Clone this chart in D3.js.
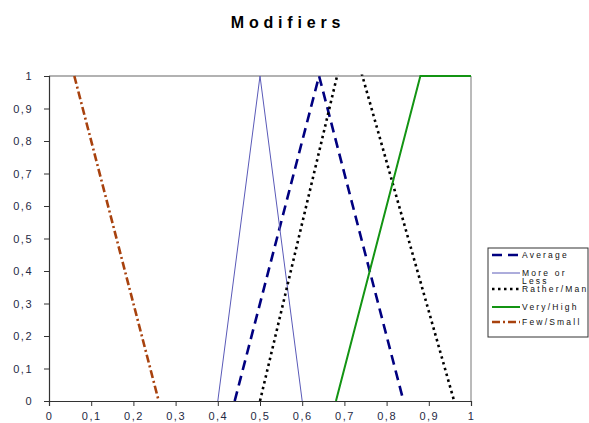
<!DOCTYPE html>
<html>
<head>
<meta charset="utf-8">
<script src="https://cdn.jsdelivr.net/npm/d3@7"></script>
<style>
  body { margin: 0; background: #fff; }
  text { font-family: "Liberation Sans", Arial, sans-serif; }
</style>
</head>
<body>
<div id="chart"></div>
<script>
// chart data (the axis stops at 1, so a peak above 1 is cut off by the plot area)
const seriesNames = ["Average", "More or Less", "Rather/Many", "Very/High", "Few/Small"];
const average = [[0.44, 0], [0.64, 1], [0.84, 0]];
const moreOrLess = [[0.40, 0], [0.50, 1], [0.60, 0]];
const ratherMany = [[0.50, 0], [0.71, 1.15], [0.96, 0]];
const veryHigh = [[0.68, 0], [0.88, 1], [1.0, 1]];
const fewSmall = [[0.06, 1], [0.26, 0]];
const xTicks = [0, 0.1, 0.2, 0.3, 0.4, 0.5, 0.6, 0.7, 0.8, 0.9, 1];
const yTicks = [0, 0.1, 0.2, 0.3, 0.4, 0.5, 0.6, 0.7, 0.8, 0.9, 1];

const width = 589, height = 423;
const margin = {top: 76, left: 49, right: 118, bottom: 22};

const styles = [
    {color: "#000080", w: 2.6, dash: "10,6"},
    {color: "#5a5ab8", w: 1, dash: null},
    {color: "#000000", w: 2.6, dash: "2.5,3.5"},
    {color: "#139413", w: 2, dash: null},
    {color: "#a8420e", w: 2.6, dash: "8,3,2,3"}
];
const allSeries = [average, moreOrLess, ratherMany, veryHigh, fewSmall];

const x = d3.scaleLinear().domain([0, 1]).range([margin.left, width - margin.right]);
const y = d3.scaleLinear().domain([0, 1]).range([height - margin.bottom, margin.top]);

const fmt = d => d === 0 || d === 1 ? String(d) : d3.format(".1f")(d).replace(".", ",");

const svg = d3.select("#chart").append("svg")
    .attr("width", width)
    .attr("height", height);

svg.append("clipPath").attr("id", "plotclip")
    .append("rect")
    .attr("x", x(0)).attr("y", y(1) - 1.5)
    .attr("width", x(1) - x(0) + 1.5).attr("height", y(0) - y(1) + 1.5);

// title
svg.append("text")
    .attr("x", 288)
    .attr("y", 28)
    .attr("text-anchor", "middle")
    .attr("font-size", 16)
    .attr("font-weight", "bold")
    .attr("letter-spacing", "4.8px")
    .text("Modifiers");

// top gridline and right border
svg.append("line")
    .attr("x1", x(0)).attr("x2", x(1))
    .attr("y1", y(1)).attr("y2", y(1))
    .attr("stroke", "#999").attr("stroke-width", 1.5);
svg.append("line")
    .attr("x1", x(1)).attr("x2", x(1))
    .attr("y1", y(1)).attr("y2", y(0))
    .attr("stroke", "#777").attr("stroke-width", 1);

// axes
const xAxis = svg.append("g")
    .attr("transform", `translate(0,${y(0)})`)
    .call(d3.axisBottom(x).tickValues(xTicks).tickFormat(fmt).tickSize(5).tickPadding(6));
const yAxis = svg.append("g")
    .attr("transform", `translate(${x(0)},0)`)
    .call(d3.axisLeft(y).tickValues(yTicks).tickFormat(fmt).tickSize(5).tickPadding(11));

[xAxis, yAxis].forEach(g => {
    g.select(".domain").attr("stroke", "#333").attr("stroke-width", 1.2);
    g.selectAll(".tick line").attr("stroke", "#333");
    g.selectAll(".tick text")
        .attr("font-size", 11)
        .attr("fill", "#1f2a44")
        .attr("letter-spacing", "1.5px")
        .attr("font-family", "Liberation Sans, Arial, sans-serif");
});

// series
const line = d3.line().x(d => x(d[0])).y(d => y(d[1]));
const plot = svg.append("g").attr("clip-path", "url(#plotclip)");
allSeries.forEach((s, i) => {
    plot.append("path")
        .datum(s)
        .attr("fill", "none")
        .attr("stroke", styles[i].color)
        .attr("stroke-width", styles[i].w)
        .attr("stroke-dasharray", styles[i].dash)
        .attr("d", line);
});

// legend
const legend = svg.append("g").attr("transform", "translate(488,248)");
legend.append("rect")
    .attr("width", 100).attr("height", 89)
    .attr("fill", "#fff").attr("stroke", "#333").attr("stroke-width", 1);

const legendY = [7, 25, 41, 59, 74];
svg.append("clipPath").attr("id", "legclip")
    .append("rect").attr("x", 0).attr("y", 0).attr("width", 99).attr("height", 89);

const items = legend.append("g").attr("clip-path", "url(#legclip)");
seriesNames.forEach((name, i) => {
    items.append("line")
        .attr("x1", 4).attr("x2", 32)
        .attr("y1", legendY[i]).attr("y2", legendY[i])
        .attr("stroke", styles[i].color)
        .attr("stroke-width", styles[i].w)
        .attr("stroke-dasharray", styles[i].dash);
    const t = items.append("text")
        .attr("x", 34)
        .attr("y", legendY[i] + 3)
        .attr("font-size", 8.5)
        .attr("letter-spacing", "2.2px")
        .attr("fill", "#111");
    if (name === "More or Less") {
        t.append("tspan").attr("x", 34).text("More or");
        t.append("tspan").attr("x", 34).attr("dy", 8).text("Less");
    } else {
        t.text(name);
    }
});
</script>
</body>
</html>
